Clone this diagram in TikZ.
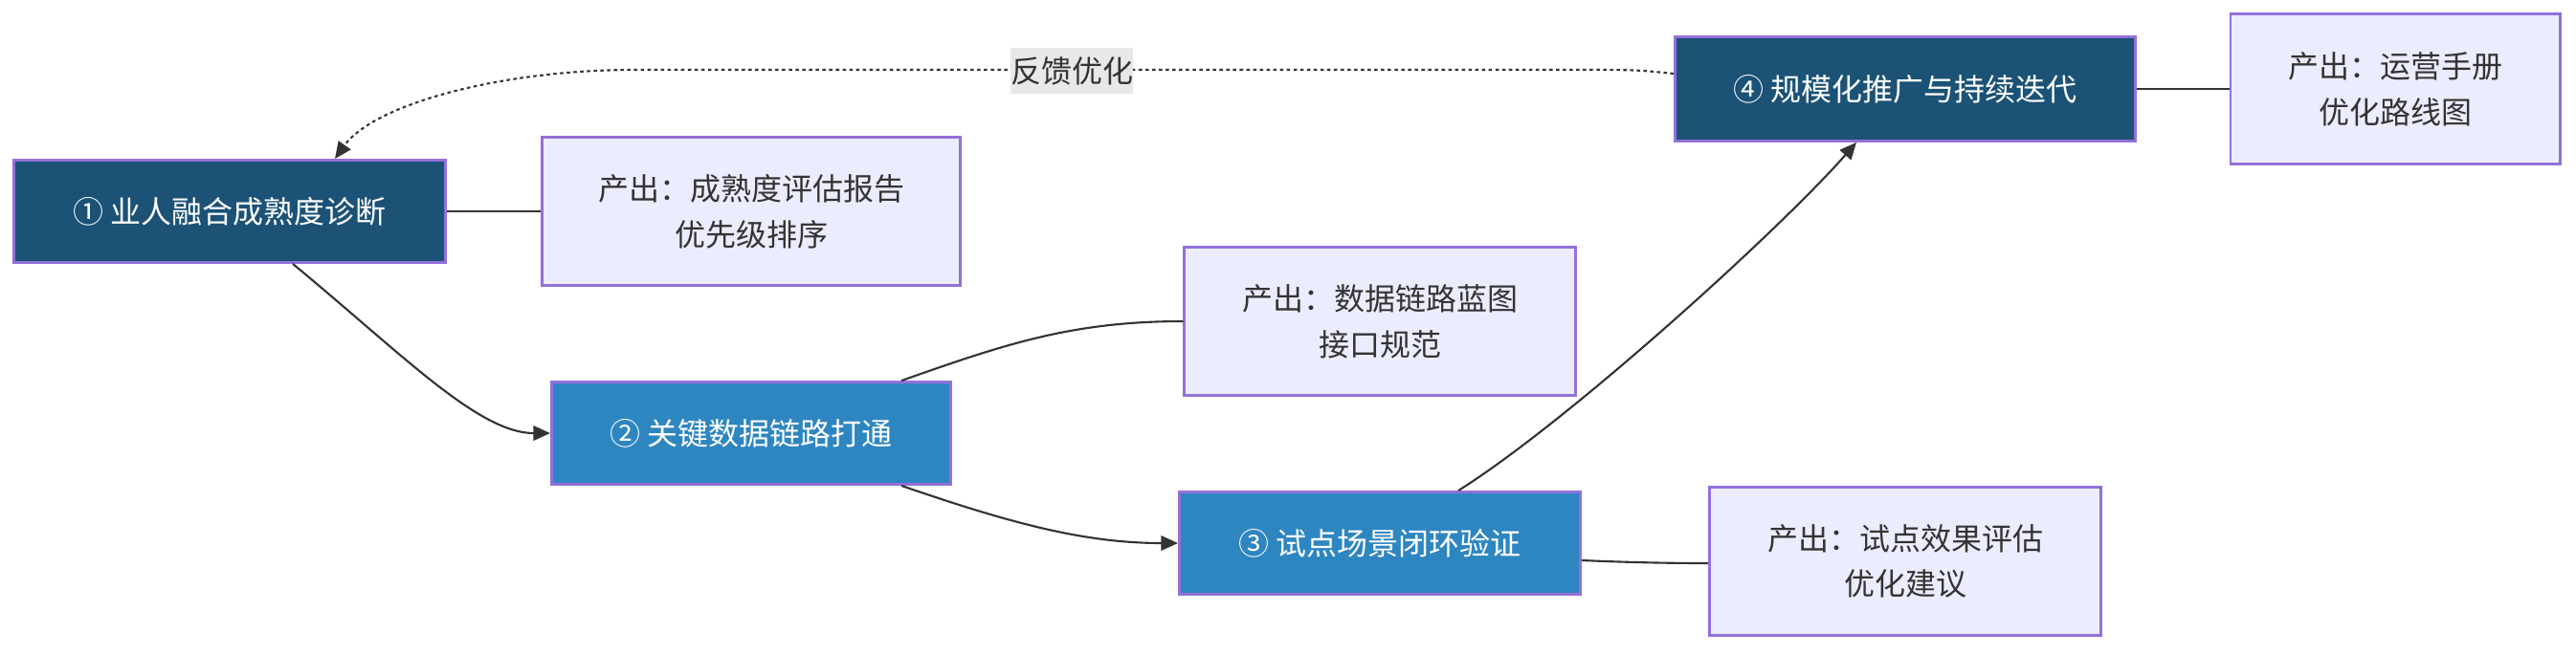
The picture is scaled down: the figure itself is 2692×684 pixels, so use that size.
\documentclass[tikz,border=0pt]{standalone}
\usepackage{fontspec}
\setmainfont{Noto Sans CJK SC}
\usetikzlibrary{arrows.meta,calc}
\definecolor{deepblue}{HTML}{1B5276}
\definecolor{midblue}{HTML}{2E86C1}
\definecolor{lilac}{HTML}{9370DB}
\definecolor{paleviolet}{HTML}{ECECFF}
\definecolor{inkgray}{HTML}{333333}
\definecolor{labelgray}{HTML}{E8E8E8}

\begin{document}
\begin{tikzpicture}[x=0.01cm,y=-0.01cm,>={Triangle[length=5pt,width=4.4pt]},
  every node/.style={font=\fontsize{9.1}{13.6}\selectfont},
  stage/.style={draw=lilac,line width=0.8pt,text=white,align=center,minimum height=1.07cm,inner sep=0pt},
  output/.style={draw=lilac,line width=0.8pt,fill=paleviolet,text=inkgray,align=center,minimum height=1.55cm,inner sep=0pt},
  link/.style={draw=inkgray,line width=0.6pt}]
  \useasboundingbox (0,0) rectangle (2692,684);

  \node[stage,fill=deepblue,minimum width=4.50cm] (diag) at (240,221) {① 业人融合成熟度诊断};
  \node[stage,fill=midblue,minimum width=4.17cm] (chain) at (785,453) {② 关键数据链路打通};
  \node[stage,fill=midblue,minimum width=4.19cm] (pilot) at (1442,568) {③ 试点场景闭环验证};
  \node[stage,fill=deepblue,minimum width=4.81cm,minimum height=1.09cm] (scale) at (1991,93) {④ 规模化推广与持续迭代};

  \node[output,minimum width=4.37cm] (outdiag) at (785,221) {产出：成熟度评估报告\\优先级排序};
  \node[output,minimum width=4.08cm] (outchain) at (1442,336) {产出：数据链路蓝图\\接口规范};
  \node[output,minimum width=4.09cm] (outpilot) at (1991,587) {产出：试点效果评估\\优化建议};
  \node[output,minimum width=3.44cm,minimum height=1.57cm] (outscale) at (2503,93) {产出：运营手册\\优化路线图};

  \draw[link] (diag) -- (outdiag);
  \draw[link] (scale) -- (outscale);
  \draw[link] ($(pilot.east)+(0,18)$) .. controls (1700,588) and (1740,589) .. ($(outpilot.west)+(0,2)$);
  \draw[link] ($(chain.north)+(157,0)$) .. controls (1050,360) and (1120,336) .. (outchain.west);
  \draw[link,->] ($(diag.south)+(66,0)$) .. controls (420,370) and (500,453) .. (chain.west);
  \draw[link,->] ($(chain.south)+(157,0)$) .. controls (1050,545) and (1130,568) .. (pilot.west);
  \draw[link,->] ($(pilot.north)+(82,0)$) .. controls (1640,440) and (1860,240) .. ($(scale.south)+(-51,0)$);

  \draw[link,->,dash pattern=on 1pt off 1pt] ($(scale.west)+(0,-16)$) .. controls (1710,73) .. (1650,73)
    -- (664,73) .. controls (520,73) and (390,110) .. ($(diag.north)+(110,0)$);
  \node[fill=labelgray,inner sep=0pt,minimum width=1.28cm,minimum height=0.48cm,text=inkgray] (fb) at (1120,74) {反馈优化};
\end{tikzpicture}
\end{document}
